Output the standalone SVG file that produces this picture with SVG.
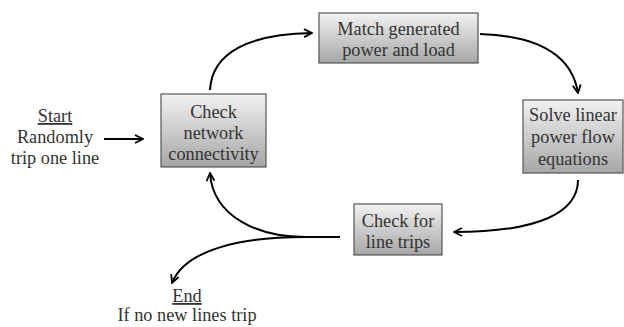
<svg xmlns="http://www.w3.org/2000/svg" width="624" height="327" viewBox="0 0 624 327">
<defs>
<linearGradient id="g" x1="0" y1="0" x2="0" y2="1">
<stop offset="0" stop-color="#f2f2f2"/>
<stop offset="1" stop-color="#a6a6a6"/>
</linearGradient>
<marker id="ah" viewBox="0 0 10 10" refX="9" refY="5" markerWidth="10" markerHeight="10" markerUnits="userSpaceOnUse" orient="auto">
<path d="M1,1 L9,5 L1,9" fill="none" stroke="#000" stroke-width="1.8"/>
</marker>
</defs>
<style>
.box{fill:url(#g);stroke:#555;stroke-width:1.2}
text{font-family:"Liberation Serif","Times New Roman",serif;font-size:18.3px;fill:#333;text-anchor:middle}
.c{fill:none;stroke:#000;stroke-width:2}
</style>
<rect width="624" height="327" fill="#fff"/>
<g id="start">
<text x="55" y="122" text-decoration="underline">Start</text>
<text x="55" y="143">Randomly</text>
<text x="55" y="164">trip one line</text>
</g>
<g id="n1">
<rect class="box" x="161" y="94" width="105" height="73"/>
<text x="213.5" y="118">Check</text>
<text x="213.5" y="139">network</text>
<text x="213.5" y="160">connectivity</text>
</g>
<g id="n2">
<rect class="box" x="319" y="13" width="159" height="50"/>
<text x="398.5" y="35">Match generated</text>
<text x="398.5" y="56">power and load</text>
</g>
<g id="n3">
<rect class="box" x="523" y="100" width="100" height="73"/>
<text x="573" y="121">Solve linear</text>
<text x="573" y="143">power flow</text>
<text x="573" y="165">equations</text>
</g>
<g id="n4">
<rect class="box" x="354" y="204" width="88" height="51"/>
<text x="398" y="227">Check for</text>
<text x="398" y="248">line trips</text>
</g>
<g id="end">
<text x="187" y="302" text-decoration="underline">End</text>
<text x="187" y="321">If no new lines trip</text>
</g>
<g id="connectors">
<path class="c" d="M104,139 H143" marker-end="url(#ah)"/>
<path class="c" d="M210,90 C212,52 250,34 312,33" marker-end="url(#ah)"/>
<path class="c" d="M480,34 C540,36 572,56 578,93" marker-end="url(#ah)"/>
<path class="c" d="M578,180 C578,212 540,232 454,232" marker-end="url(#ah)"/>
<path class="c" d="M340,237 H305 C260,237 213,218 210,173" marker-end="url(#ah)"/>
<path class="c" d="M305,237 C240,237 185,250 172,283" marker-end="url(#ah)"/>
</g>
</svg>
